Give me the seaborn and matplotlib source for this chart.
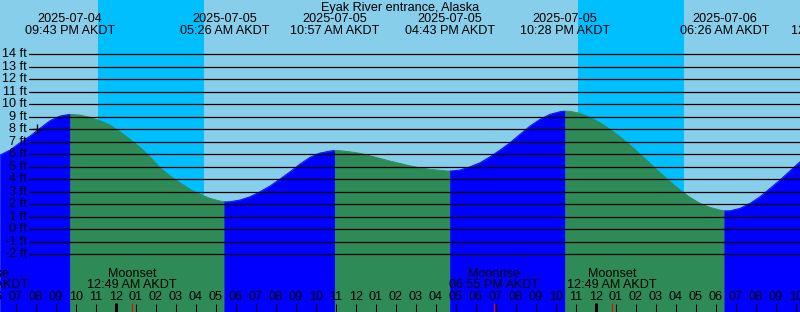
import numpy as np
import pandas as pd
import matplotlib
matplotlib.use("Agg")
import matplotlib.pyplot as plt
import matplotlib.dates as mdates
import matplotlib.transforms as mtrans
import seaborn as sns

# ---------------- data ----------------
STATION = "Eyak River entrance, Alaska"
SAMPLE_START = "2025-07-04 18:13"      # first curve sample (left edge of chart)
SAMPLE_STEP = "30min"
heights_ft = [5.94, 6.34, 6.93, 7.46, 8.08, 8.69, 9.06, 9.20, 9.14, 8.96,
              8.69, 8.34, 7.80, 7.20, 6.56, 5.78, 4.92, 4.26, 3.72, 3.19,
              2.79, 2.47, 2.26, 2.20, 2.34, 2.60, 3.00, 3.46, 4.02, 4.60,
              5.22, 5.76, 6.10, 6.26, 6.29, 6.20, 6.08, 5.88, 5.67, 5.46,
              5.27, 5.08, 4.92, 4.80, 4.72, 4.66, 4.74, 5.00, 5.32, 5.80,
              6.34, 6.93, 7.60, 8.26, 8.80, 9.20, 9.41, 9.44, 9.28, 8.96,
              8.53, 8.00, 7.40, 6.74, 6.00, 5.27, 4.52, 3.80, 3.14, 2.55,
              2.07, 1.75, 1.54, 1.48, 1.67, 2.07, 2.60, 3.27, 3.94, 4.68,
              5.40]

event_times = ["2025-07-04 21:43", "2025-07-05 05:26", "2025-07-05 10:57",
               "2025-07-05 16:43", "2025-07-05 22:28", "2025-07-06 06:26",
               "2025-07-06 12:00"]
event_dates = ["2025-07-04", "2025-07-05", "2025-07-05", "2025-07-05",
               "2025-07-05", "2025-07-06", "2025-07-06"]
event_clock = ["09:43 PM AKDT", "05:26 AM AKDT", "10:57 AM AKDT",
               "04:43 PM AKDT", "10:28 PM AKDT", "06:26 AM AKDT",
               "12:00 PM AKDT"]
event_heights = [9.20, 2.19, 6.30, 4.65, 9.46, 1.47, None]
event_kind = ["H", "L", "H", "L", "H", "L", "H"]

night_starts = ["2025-07-04 23:07", "2025-07-05 23:07"]
night_ends = ["2025-07-05 04:25", "2025-07-06 04:25"]

moon_times = ["2025-07-04 17:23", "2025-07-05 00:49",
              "2025-07-05 18:55", "2025-07-06 00:49"]
moon_names = ["Moonrise", "Moonset", "Moonrise", "Moonset"]
moon_clock = ["05:23 PM AKDT", "12:49 AM AKDT", "06:55 PM AKDT", "12:49 AM AKDT"]

gridlines_ft = list(range(-2, 15))
now_time = "2025-07-04 20:04"
now_height = 8.0

# ---------------- styling / geometry ----------------
W, H = 800, 312
PX_ZERO = 229.2     # pixel row of 0 ft
PX_PER_FT = 12.49
SKY = "#87CEEB"
NIGHT = "#00BFFF"
FLOOD = "#0000FF"
EBB = "#2E8B57"
FS = 9.1

def row_ft(row):
    return (PX_ZERO - row) / PX_PER_FT

sns.set_theme(style="white")
plt.rcParams["font.family"] = ["Liberation Sans", "DejaVu Sans"]

fig = plt.figure(figsize=(W / 100, H / 100), dpi=100)
fig.patch.set_facecolor(SKY)
ax = fig.add_axes([0, 0, 1, 1])
ax.set_axis_off()

t_start = pd.Timestamp(SAMPLE_START)
x0 = mdates.date2num(t_start)
x1 = mdates.date2num(t_start + pd.Timedelta(hours=40))
ybot, ytop = row_ft(H), row_ft(0)
ax.set_xlim(x0, x1)
ax.set_ylim(ybot, ytop)

# night bands
for s, e in zip(night_starts, night_ends):
    ax.axvspan(mdates.date2num(pd.Timestamp(s)), mdates.date2num(pd.Timestamp(e)),
               color=NIGHT, lw=0, zorder=1)

# curve table: samples + extremes
sample_t = pd.date_range(SAMPLE_START, periods=len(heights_ft), freq=SAMPLE_STEP)
curve = pd.DataFrame({"time": sample_t, "height": heights_ft})
ext = pd.DataFrame({"time": pd.to_datetime(event_times), "height": event_heights,
                    "kind": event_kind})
ext_in = ext.dropna(subset=["height"])
curve = pd.concat([curve, ext_in[["time", "height"]]]).sort_values("time").reset_index(drop=True)
curve["x"] = mdates.date2num(curve["time"])

# segments between extremes
bounds = list(ext_in["time"])
seg_rows = []
edges = [curve["time"].min()] + bounds + [curve["time"].max()]
kinds_next = list(ext_in["kind"]) + ["H"]  # after last low tide the water rises
for i in range(len(edges) - 1):
    a, b = edges[i], edges[i + 1]
    part = curve[(curve["time"] >= a) & (curve["time"] <= b)].copy()
    part["segment"] = i
    part["phase"] = "rising" if kinds_next[i] == "H" else "falling"
    seg_rows.append(part)
segs = pd.concat(seg_rows, ignore_index=True)
palette = {"rising": FLOOD, "falling": EBB}

for i, part in segs.groupby("segment"):
    c = palette[part["phase"].iloc[0]]
    ax.fill_between(part["x"], part["height"], ybot - 1, color=c, lw=0.4,
                    edgecolor=c, zorder=2)

sns.lineplot(data=segs, x="x", y="height", hue="phase", units="segment",
             estimator=None, palette=palette, legend=False, linewidth=0.6,
             ax=ax, zorder=3)
ax.set_axis_off()
ax.set_xlim(x0, x1)
ax.set_ylim(ybot, ytop)

# height grid lines and labels
bt = mtrans.blended_transform_factory(ax.transAxes, ax.transData)
for ft in gridlines_ft:
    ax.axhline(ft, xmin=29 / W, xmax=1, color="black", lw=0.9, zorder=4)
    ax.text(27 / W, ft, f"{ft} ft", transform=bt, ha="right", va="center",
            fontsize=FS, color="black", zorder=5)

# now marker
ax.plot([mdates.date2num(pd.Timestamp(now_time))], [now_height], marker="+",
        ms=7, mew=1.0, color="black", zorder=6)

# title and tide event labels
ax.text(0.5, row_ft(7.5), STATION, transform=bt, ha="center", va="center",
        fontsize=FS, color="black")
for t, d, c in zip(event_times, event_dates, event_clock):
    xt = mdates.date2num(pd.Timestamp(t))
    ax.text(xt, row_ft(19.3), d, ha="center", va="center", fontsize=FS, color="black")
    ax.text(xt, row_ft(31.5), c, ha="center", va="center", fontsize=FS, color="black")

# hour labels and ticks
hours = pd.date_range("2025-07-04 18:00", "2025-07-06 11:00", freq="1h")
for h in hours:
    xh = mdates.date2num(h)
    ax.text(xh, row_ft(297.5), h.strftime("%I"), ha="center", va="center",
            fontsize=FS, color="black", zorder=6)
    if h.hour == 0:
        ax.vlines(xh, row_ft(303), ybot, color="black", lw=2.2, zorder=6)
    else:
        ax.vlines(xh, row_ft(304), ybot, color="black", lw=0.75, zorder=6)

# moon events
for t, n, c in zip(moon_times, moon_names, moon_clock):
    xm = mdates.date2num(pd.Timestamp(t))
    ax.text(xm, row_ft(274), n, ha="center", va="center", fontsize=FS, color="black", zorder=6)
    ax.text(xm, row_ft(285.5), c, ha="center", va="center", fontsize=FS, color="black", zorder=6)
    ax.vlines(xm, row_ft(303), ybot, color="red", lw=0.8, zorder=7)

fig.savefig("out.png", dpi=100, facecolor=SKY)
